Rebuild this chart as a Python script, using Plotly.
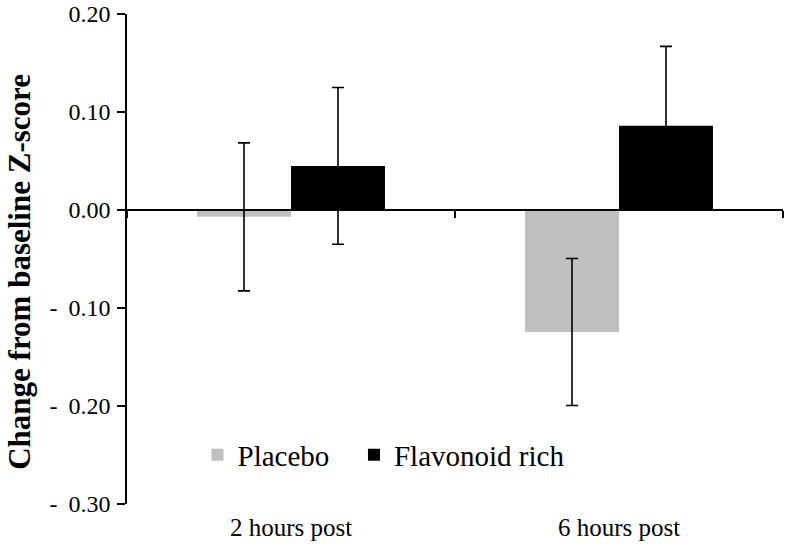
import plotly.graph_objects as go

categories = ["2 hours post", "6 hours post"]
placebo = [-0.007, -0.1245]
placebo_err = [0.0755, 0.075]
flavonoid = [0.045, 0.086]
flavonoid_err = [0.080, 0.081]
ytick_vals = [-0.3, -0.2, -0.1, 0.0, 0.1, 0.2]
ytick_text = ["-\u00a0\u20090.30", "-\u00a0\u20090.20", "-\u00a0\u20090.10", "0.00", "0.10", "0.20"]

FONT = "Liberation Serif, Times New Roman, serif"
xpos = list(range(len(categories)))

fig = go.Figure()
fig.add_trace(go.Bar(
    x=xpos, y=placebo, name="Placebo", legend="legend",
    marker=dict(color="#BFBFBF", line=dict(width=0)),
    error_y=dict(type="data", array=placebo_err, visible=True,
                 color="black", thickness=1.6, width=6),
))
fig.add_trace(go.Bar(
    x=xpos, y=flavonoid, name="Flavonoid rich", legend="legend2",
    marker=dict(color="black", line=dict(width=0)),
    error_y=dict(type="data", array=flavonoid_err, visible=True,
                 color="black", thickness=1.6, width=6),
))

legend_common = dict(orientation="h", yanchor="middle", xanchor="left",
                     font=dict(size=29, family=FONT, color="black"),
                     bgcolor="rgba(0,0,0,0)", borderwidth=0)

fig.update_layout(
    width=786, height=550,
    template="none",
    paper_bgcolor="white", plot_bgcolor="white",
    margin=dict(l=127, r=3, t=14, b=46),
    barmode="group", bargap=0.427, bargroupgap=0,
    font=dict(family=FONT, color="black", size=24),
    showlegend=True,
    legend=dict(x=0.1075, y=0.1, **legend_common),
    legend2=dict(x=0.346, y=0.1, **legend_common),
    xaxis=dict(range=[-0.5, 1.5], tickvals=xpos, ticktext=categories,
               showline=False, showgrid=False, zeroline=False, ticks="",
               tickfont=dict(size=25, family=FONT, color="black"),
               ticklabelstandoff=6, automargin=False),
    xaxis2=dict(range=[-0.5, 1.5], overlaying="x", anchor="free", position=0.6,
                side="bottom", showline=True, linecolor="black", linewidth=1.6,
                ticks="outside", ticklen=7, tickwidth=1.6, tickcolor="black",
                tickvals=[-0.5, 0.5, 1.5], showticklabels=False,
                showgrid=False, zeroline=False, automargin=False),
    yaxis=dict(range=[-0.3, 0.2], tickvals=ytick_vals, ticktext=ytick_text,
               showline=True, linecolor="black", linewidth=1.6,
               ticks="outside", ticklen=8, tickwidth=1.6, tickcolor="black",
               showgrid=False, zeroline=False,
               tickfont=dict(size=24, family=FONT, color="black"),
               ticklabelstandoff=2, automargin=False),
)
# invisible trace to activate xaxis2
fig.add_trace(go.Scatter(x=[-0.5], y=[0], xaxis="x2", mode="markers",
                         marker=dict(opacity=0), showlegend=False, hoverinfo="skip"))

fig.add_annotation(text="<b>Change from baseline Z-score</b>", textangle=-90,
                   xref="paper", yref="paper", x=-0.163, y=0.474,
                   xanchor="center", yanchor="middle", showarrow=False,
                   font=dict(size=31, family=FONT, color="black"))

fig.write_html("out.html", config={"displayModeBar": False},
               post_script="document.body.style.margin='0';")
